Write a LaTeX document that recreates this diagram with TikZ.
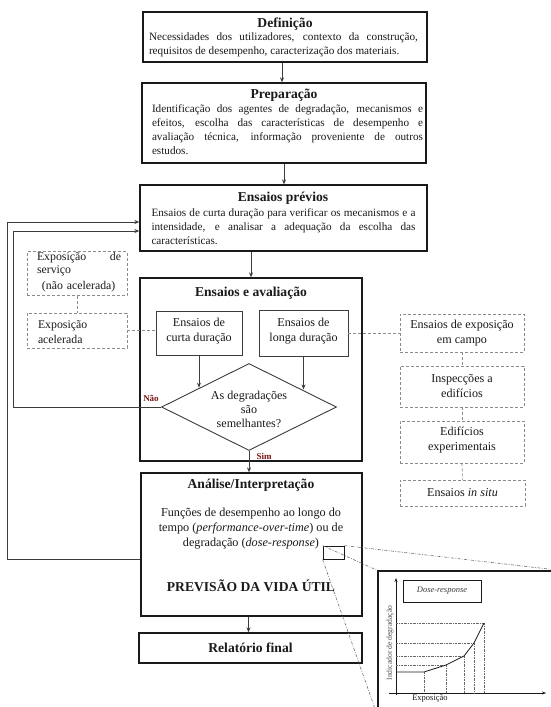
\documentclass[tikz,border=0pt]{standalone}
\usepackage{fontspec}
\setmainfont{Liberation Serif}
\usetikzlibrary{arrows.meta,shapes.geometric,calc}
\definecolor{ink}{HTML}{1A1A1A}
\definecolor{lab}{HTML}{7A1414}
\definecolor{dgray}{HTML}{8C8C8C}
\begin{document}
\begin{tikzpicture}[x=1pt,y=-1pt,
  mainbox/.style={draw=ink, line width=1.3pt, inner sep=0pt},
  subbox/.style={draw=ink!85, line width=0.8pt, inner sep=0pt},
  dbox/.style={draw=dgray, dash pattern=on 3pt off 2pt, line width=0.8pt, inner sep=0pt},
  dline/.style={draw=dgray, dash pattern=on 3pt off 2pt, line width=0.7pt},
  arr/.style={draw=ink!85, line width=0.8pt, -{Stealth[length=5pt,width=4pt]}},
  fb/.style={draw=ink!85, line width=0.9pt, -{Stealth[length=5pt,width=4pt]}},
  ttl/.style={font=\fontsize{13.6}{15}\selectfont\bfseries, text=ink, inner sep=0pt},
  body/.style={font=\fontsize{11.2}{13.8}\selectfont, text=ink, inner sep=0pt, align=justify},
  ctext/.style={font=\fontsize{12.1}{15}\selectfont, text=ink, inner sep=0pt, align=center},
  lbl/.style={font=\fontsize{9}{10}\selectfont\bfseries, text=lab, inner sep=0pt},
  zline/.style={draw=black!55, line width=0.6pt, dash pattern=on 3pt off 1.5pt on 0.7pt off 1.5pt},
  gline/.style={draw=black!60, line width=0.45pt, dash pattern=on 2pt off 1pt on 0.5pt off 1pt}
]
\useasboundingbox (0,0) rectangle (551,707);
\clip (0,0) rectangle (551,707);
\fill[white] (0,0) rectangle (551,707);

% main boxes
\node[mainbox, minimum width=284, minimum height=50] (def) at (285,37) {};
\node[mainbox, minimum width=284, minimum height=80] (prep) at (284,123) {};
\node[mainbox, minimum width=287, minimum height=66] (prev) at (283.5,218) {};
\node[mainbox, minimum width=222, minimum height=183] (aval) at (251,369.5) {};
\node[subbox, minimum width=86, minimum height=44] (curta) at (199,333) {};
\node[subbox, minimum width=89, minimum height=46] (longa) at (303.5,333) {};
\node[diamond, draw=ink!85, line width=0.9pt, minimum width=175, minimum height=87, inner sep=0pt] (diam) at (249,407) {};
\node[mainbox, minimum width=221, minimum height=143] (anal) at (251.5,544.5) {};
\node[mainbox, minimum width=223, minimum height=30] (rel) at (250.5,648) {};

% dashed boxes
\node[dbox, minimum width=100, minimum height=44] (serv) at (77,273.5) {};
\node[dbox, minimum width=100, minimum height=35] (acel) at (77,330.5) {};
\node[dbox, minimum width=124, minimum height=38] (campo) at (462,333) {};
\node[dbox, minimum width=124, minimum height=41] (insp) at (462,386.5) {};
\node[dbox, minimum width=124, minimum height=42] (edif) at (462,442) {};
\node[dbox, minimum width=125, minimum height=26] (situ) at (462.5,493) {};

% texts
\node[ttl] (tdef) at (285,24.5) {Definição};
\node[body, text width=269] (bdef) at (283.5,45) {Necessidades dos utilizadores, contexto da construção,\linebreak requisitos de desempenho, caracterização dos materiais.};
\node[ttl] (tprep) at (284,95) {Preparação};
\node[body, text width=271] (bprep) at (287.5,129.5) {Identificação dos agentes de degradação, mecanismos e\linebreak efeitos, escolha das características de desempenho e\linebreak avaliação técnica, informação proveniente de outros\linebreak estudos.};
\node[ttl] (tprev) at (283,198) {Ensaios prévios};
\node[body, text width=264] (bprev) at (283.5,226.5) {Ensaios de curta duração para verificar os mecanismos e a\linebreak intensidade, e analisar a adequação da escolha das\linebreak características.};
\node[ttl] (taval) at (251,293) {Ensaios e avaliação};
\node[ctext] (tcurta) at (199,331) {Ensaios de\\curta duração};
\node[ctext] (tlonga) at (303.5,331) {Ensaios de\\longa duração};
\node[ctext, font=\fontsize{12.1}{14}\selectfont] (tdiam) at (249,409) {As degradações\\são\\semelhantes?};
\node[ttl] (tanal) at (251,485) {Análise/Interpretação};
\node[ctext, font=\fontsize{12.2}{15}\selectfont] (banal) at (251,528.5) {Funções de desempenho ao longo do\\tempo (\textit{performance-over-time}) ou de\\degradação (\textit{dose-response})};
\node[ttl] (prevvida) at (251,586) {PREVISÃO DA VIDA ÚTIL};
\node[ttl] (trel) at (250.5,648) {Relatório final};

\node[body, text width=84, align=left, font=\fontsize{11.8}{13}\selectfont] (tserv) at (79,272.5) {Exposição\hfill de\\serviço\\[3pt]\hspace*{5pt}(não acelerada)};
\node[body, text width=84, align=left, font=\fontsize{11.8}{15}\selectfont] (tacel) at (80,332) {Exposição\\acelerada};
\node[ctext] (tcampo) at (462,333) {Ensaios de exposição\\em campo};
\node[ctext] (tinsp) at (462,385.5) {Inspecções a\\edifícios};
\node[ctext] (tedif) at (462,440.5) {Edifícios\\experimentais};
\node[ctext] (tsitu) at (462.5,493) {Ensaios \textit{in situ}};

\node[lbl] (nao) at (151,398) {Não};
\node[lbl] (sim) at (264,456) {Sim};

% arrows
\draw[arr] ([xshift=-3pt]def.south) -- ([xshift=-2pt]prep.north);
\draw[arr] (prep.south) -- (prep.south |- prev.north);
\draw[arr] (prev.south -| aval.north) -- (aval.north);
\draw[arr] (curta.south) -- (curta.south |- {$(diam.west)!0.44!(diam.north)$});
\draw[arr] (longa.south) -- (longa.south |- {$(diam.north)!0.6!(diam.east)$});
\draw[arr] (diam.south) -- (diam.south |- anal.north);
\draw[arr] ([xshift=-3pt]anal.south) -- ([xshift=-2pt]rel.north);

% feedback loops
\coordinate (fbA) at (13,231);
\coordinate (fbB) at (7,222);
\coordinate (fbC) at (7,559);
\draw[fb] (diam.west) -| (fbA) -- (fbA -| prev.west);
\draw[fb] (fbC -| anal.west) -- (fbC) -- (fbB) -- (fbB -| prev.west);

% dashed connectors
\draw[dline] (serv.south) -- (acel.north);
\draw[dline] (acel.east) -- (acel.east -| curta.west);
\draw[dline] (longa.east) -- (longa.east -| campo.west);
\draw[dline] (campo.south) -- (insp.north);
\draw[dline] (insp.south) -- (edif.north);
\draw[dline] (edif.south) -- (situ.north);

% zoom
\node[draw=ink, line width=0.8pt, minimum width=21, minimum height=13, inner sep=0pt] (zr) at (333.5,552.5) {};
\node[draw=ink, line width=1.2pt, fill=white, minimum width=182, minimum height=144, inner sep=0pt] (inset) at (469,643) {};
\draw[zline] (zr.north west) -- (inset.north west);
\draw[zline] (zr.north east) -- (inset.north east);
\draw[zline] (zr.south west) -- (inset.south west);

% inset content
\coordinate (o) at (396,693);
\coordinate (yt) at (396,578);
\coordinate (xt) at (546,693);
\draw[ink, line width=0.9pt, -{Stealth[length=4pt,width=3pt]}] (396,695) -- (yt);
\draw[ink, line width=0.9pt, -{Stealth[length=4pt,width=3pt]}] (389,693) -- (xt);
\node[draw=ink, line width=0.8pt, minimum width=78, minimum height=22, inner sep=0pt, font=\fontsize{8.5}{9}\selectfont\itshape, text=ink!85] (dr) at (442,591) {Dose-response};
\coordinate (p0) at (397,672);
\coordinate (p1) at (424,672);
\coordinate (p2) at (446,665);
\coordinate (p3) at (464,656);
\coordinate (p4) at (474,643);
\coordinate (p5) at (484,623);
\foreach \p in {p1,p2,p3,p4,p5} \draw[gline] (\p) -- (\p |- o);
\foreach \p in {p2,p3,p4,p5} \draw[gline] (\p -| o) -- (\p);
\draw[ink, line width=0.8pt] (p0) -- (p1) -- (p2) -- (p3) -- (p4) -- (p5);
\node[rotate=90, font=\fontsize{7.6}{8}\selectfont, text=black!70, inner sep=0pt] (ylab) at (390,643) {Indicador de degradação};
\node[font=\fontsize{8.5}{9}\selectfont, text=ink, inner sep=0pt] (xlab) at (430,699) {Exposição};
\end{tikzpicture}
\end{document}
